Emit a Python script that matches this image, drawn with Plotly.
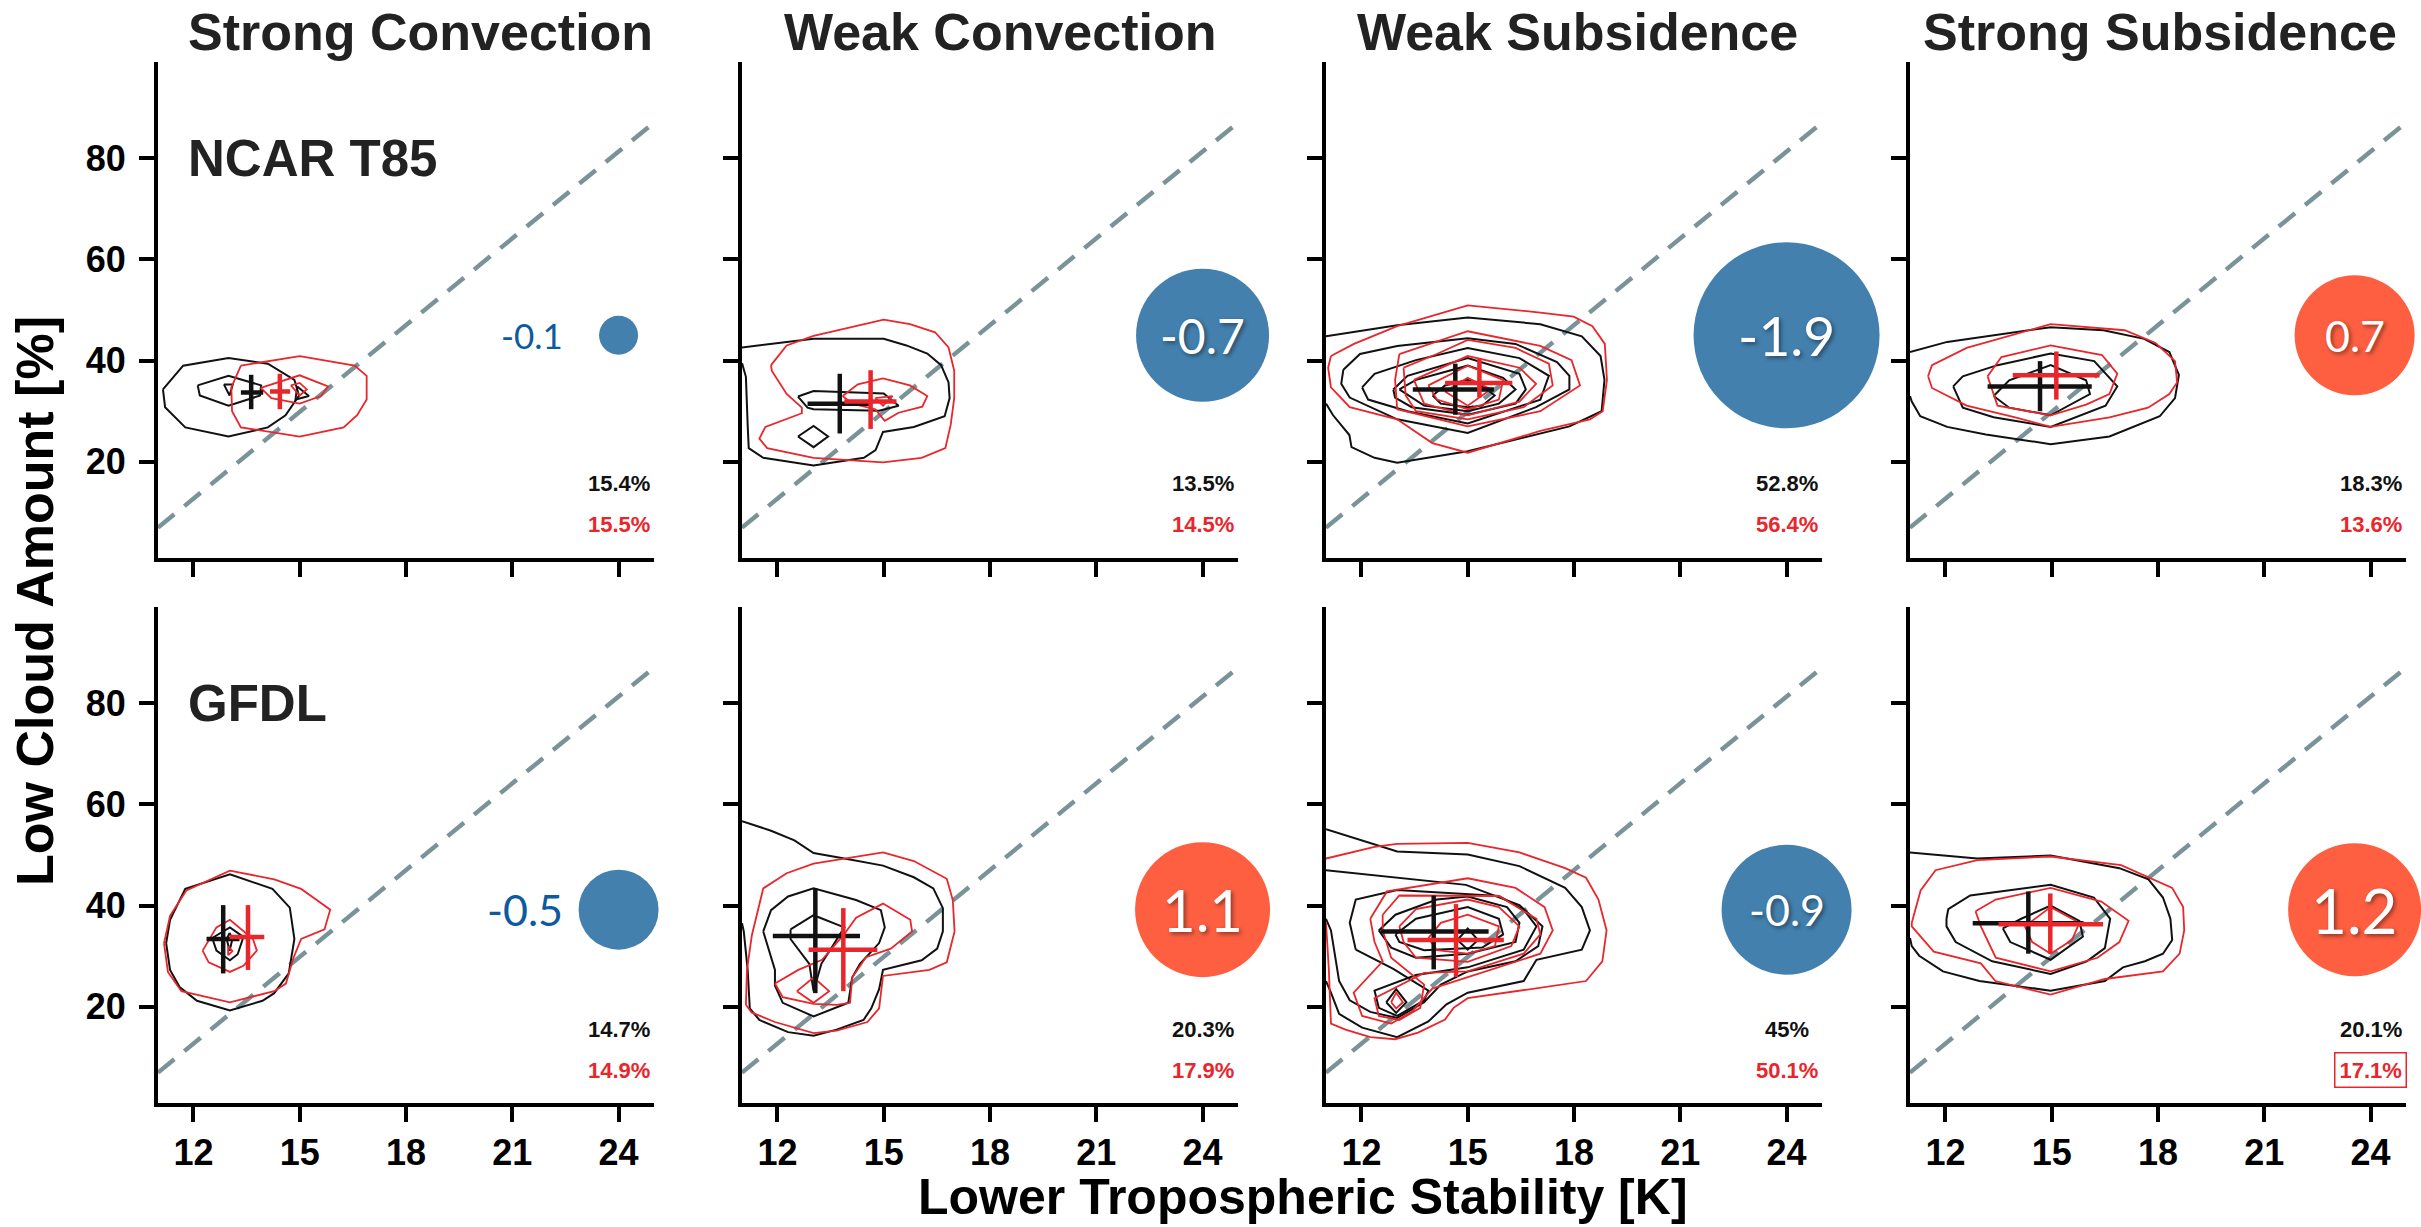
import plotly.graph_objects as go

# ---------------- data ----------------
REGIMES = ["Strong Convection", "Weak Convection", "Weak Subsidence", "Strong Subsidence"]
MODELS = ["NCAR T85", "GFDL"]
X_TICKS = [12, 15, 18, 21, 24]
Y_TICKS = [20, 40, 60, 80]
X_RANGE = [11, 25]
Y_RANGE = [1, 99]

# change values shown in the bubbles
ncar_change = [-0.1, -0.7, -1.9, 0.7]
gfdl_change = [-0.5, 1.1, -0.9, 1.2]

# regime frequencies (control = black, perturbed = red)
ncar_freq_ctl = ["15.4%", "13.5%", "52.8%", "18.3%"]
ncar_freq_exp = ["15.5%", "14.5%", "56.4%", "13.6%"]
gfdl_freq_ctl = ["14.7%", "20.3%", "45%", "20.1%"]
gfdl_freq_exp = ["14.9%", "17.9%", "50.1%", "17.1%"]
boxed_label = ("GFDL", 3, "exp")  # the framed 17.1%

# reference (dashed) line
ref_line_x = [11, 25]
ref_line_y = [7, 87]

# crosses: (x_center, y_center, x_left, x_right, y_bottom, y_top)
ncar_cross_black = [(13.63, 33.7, 13.34, 13.97, 30.4, 37.2),
                    (13.76, 31.5, 12.85, 14.65, 25.6, 37.4),
                    (14.65, 34.3, 13.45, 15.74, 29.3, 39.4),
                    (14.67, 34.9, 13.19, 16.13, 30.0, 39.9)]
ncar_cross_red = [(14.44, 33.9, 14.16, 14.73, 30.4, 37.4),
                  (14.63, 31.9, 13.89, 15.36, 26.5, 38.1),
                  (15.33, 35.6, 14.36, 16.26, 32.7, 40.5),
                  (15.13, 37.1, 13.90, 16.35, 32.3, 41.8)]
gfdl_cross_black = [(12.84, 33.4, 12.37, 13.30, 26.6, 40.1),
                    (13.07, 34.0, 11.87, 14.33, 22.7, 43.4),
                    (14.04, 34.9, 12.54, 15.59, 27.4, 42.0),
                    (14.34, 36.5, 12.77, 15.90, 30.5, 42.8)]
gfdl_cross_red = [(13.54, 33.8, 13.02, 14.00, 27.3, 40.1),
                  (13.86, 31.3, 12.88, 14.82, 23.1, 39.5),
                  (14.67, 33.2, 13.30, 16.02, 25.9, 40.3),
                  (14.96, 36.3, 13.50, 16.45, 30.5, 42.4)]

# contour lines (x = LTS [K], y = low cloud [%])
ncar_sc_black = [
    [(11.14, 34.3), (11.71, 39.0), (12.99, 40.5), (14.1, 39.4), (14.85, 36.2), (14.98, 33.1), (14.6, 29.2),
     (14.1, 26.8), (12.99, 25.0), (11.77, 26.8), (11.2, 30.8)],
    [(12.12, 35.1), (12.99, 37.0), (13.91, 35.1), (13.88, 33.1), (12.99, 31.1), (12.18, 33.1)],
    [(12.86, 35.3), (13.11, 35.3), (13.02, 33.1)],
    [(14.93, 34.9), (15.26, 33.0), (14.88, 32.3)],
]
ncar_sc_red = [
    [(13.34, 39.0), (15.0, 40.9), (16.55, 39.0), (16.89, 37.0), (16.89, 32.3), (16.62, 29.2), (16.24, 26.8),
     (15.0, 25.0), (13.34, 26.8), (13.09, 30.0), (13.07, 34.7)],
    [(13.9, 34.6), (15.0, 37.1), (15.8, 34.9), (15.6, 33.0), (15.0, 31.5), (14.2, 32.6)],
    [(14.75, 35.1), (15.0, 35.6), (15.2, 34.3), (15.0, 33.1)],
]
ncar_wc_black = [
    [(11.0, 42.6), (13.02, 44.3), (15.0, 44.3), (15.64, 43.0), (16.23, 41.4), (16.62, 39.1), (16.83, 35.7),
     (16.86, 32.6), (16.72, 29.0), (15.85, 26.9), (14.98, 25.9), (14.9, 24.5), (14.77, 22.3), (14.44, 20.8),
     (13.02, 19.3), (11.6, 20.8), (11.19, 22.7), (11.16, 27.3), (11.11, 36.8), (11.0, 39.5)],
    [(12.58, 32.9), (13.02, 34.0), (15.0, 33.5), (15.42, 31.1), (14.87, 30.1), (13.02, 30.4), (12.85, 30.7)],
    [(12.58, 25.0), (13.02, 27.1), (13.43, 25.0), (13.02, 22.9)],
]
ncar_wc_red = [
    [(11.82, 39.1), (12.26, 43.0), (13.02, 44.9), (15.0, 48.1), (15.74, 47.2), (16.45, 45.6), (16.83, 42.6),
     (16.99, 38.0), (16.99, 32.6), (16.89, 27.3), (16.74, 22.7), (16.07, 20.8), (14.98, 19.9), (13.02, 20.8),
     (11.71, 22.7), (11.49, 24.6), (11.66, 26.9), (12.69, 29.6), (12.69, 30.7), (12.26, 33.4), (11.84, 38.0)],
    [(13.84, 33.0), (14.27, 35.3), (14.98, 36.5), (15.74, 35.1), (16.23, 33.0), (16.09, 30.9), (15.42, 29.7),
     (15.03, 28.1), (14.76, 30.4), (14.11, 31.5)],
    [(14.76, 32.6), (15.25, 33.0), (14.98, 31.1)],
]
ncar_ws_black = [
    [(11.0, 44.8), (13.01, 47.0), (15.0, 48.5), (17.05, 47.2), (18.22, 44.8), (18.75, 40.9), (18.86, 36.2),
     (18.78, 30.0), (17.87, 27.0), (15.0, 22.1), (13.01, 19.8), (12.37, 20.8), (11.72, 22.9), (11.66, 25.3),
     (11.2, 29.2), (11.0, 31.5)],
    [(11.49, 38.2), (11.96, 41.3), (13.01, 42.9), (15.0, 44.4), (16.35, 43.3), (17.52, 39.7), (17.87, 37.0),
     (17.87, 34.3), (16.93, 30.8), (15.0, 25.7), (13.01, 28.4), (11.67, 32.7), (11.43, 35.4)],
    [(12.02, 34.7), (12.37, 37.4), (13.54, 40.1), (15.0, 42.5), (16.46, 40.5), (17.29, 37.0), (17.05, 32.3),
     (15.0, 27.6), (13.3, 30.0), (12.19, 32.3)],
    [(12.9, 34.3), (13.3, 37.0), (15.0, 40.5), (16.46, 37.4), (16.64, 34.3), (16.35, 31.5), (15.0, 29.3),
     (13.42, 30.8), (12.95, 32.7)],
    [(13.07, 34.3), (13.54, 36.2), (15.0, 39.0), (16.0, 36.6), (16.35, 34.3), (15.88, 31.5), (15.0, 30.0),
     (13.77, 31.1)],
    [(14.01, 33.1), (14.36, 35.1), (15.0, 36.2), (15.47, 34.7), (15.76, 33.1), (15.41, 31.1), (15.0, 30.8),
     (14.24, 31.5)],
]
ncar_ws_red = [
    [(11.14, 40.9), (11.79, 43.3), (13.01, 46.8), (15.0, 50.9), (17.05, 49.5), (17.99, 48.7), (18.52, 46.8),
     (18.87, 43.3), (18.93, 36.2), (18.81, 30.0), (18.45, 28.4), (17.05, 26.1), (15.0, 21.8), (14.0, 23.7),
     (13.01, 28.4), (11.67, 30.8), (11.14, 34.7), (11.06, 38.6)],
    [(13.07, 41.3), (15.0, 45.8), (17.05, 42.9), (17.93, 40.1), (18.17, 35.1), (17.05, 30.0), (15.0, 27.0),
     (13.01, 30.4), (12.95, 36.2)],
    [(13.19, 38.6), (14.13, 41.3), (15.0, 44.1), (16.35, 42.5), (17.29, 39.4), (17.4, 35.1), (16.58, 30.8),
     (15.0, 28.4), (13.54, 30.0), (13.25, 33.1)],
    [(13.48, 36.2), (15.0, 40.9), (16.46, 38.6), (16.93, 35.4), (16.46, 31.9), (15.0, 29.2), (13.77, 31.5)],
    [(13.89, 35.1), (15.0, 39.0), (16.0, 36.2), (15.88, 32.3), (15.0, 30.4), (14.13, 32.3)],
    [(14.36, 33.9), (15.0, 36.6), (15.65, 34.3), (15.0, 31.1)],
]
ncar_ss_black = [
    [(11.0, 41.7), (12.05, 43.7), (14.97, 46.6), (16.46, 46.0), (17.61, 44.3), (18.32, 41.7), (18.59, 37.2),
     (18.48, 32.6), (18.05, 29.0), (16.63, 25.0), (14.97, 23.5), (13.14, 25.4), (12.05, 26.9), (11.29, 29.0),
     (11.05, 31.9), (11.0, 33.0)],
    [(12.22, 34.9), (12.49, 36.9), (13.47, 39.1), (14.97, 41.4), (16.2, 39.9), (16.85, 34.9), (16.52, 31.1),
     (14.97, 26.9), (13.36, 28.8), (12.49, 30.7)],
    [(13.36, 33.0), (13.8, 36.1), (14.97, 39.1), (15.97, 36.1), (16.08, 33.4), (14.97, 29.2), (13.8, 30.7)],
]
ncar_ss_red = [
    [(11.51, 36.9), (11.62, 39.1), (12.6, 42.5), (13.97, 45.3), (14.97, 47.2), (17.06, 46.0), (17.93, 43.5),
     (18.48, 39.9), (18.54, 35.7), (18.32, 33.4), (17.72, 30.7), (16.63, 28.8), (14.97, 26.9), (13.97, 28.8),
     (12.6, 31.1), (11.62, 34.6)],
    [(13.19, 36.9), (13.58, 40.7), (14.97, 43.0), (16.42, 41.1), (16.85, 37.4), (16.63, 33.4), (15.97, 31.3),
     (14.97, 29.2), (13.47, 31.1)],
]
gfdl_sc_black = [
    [(11.23, 32.6), (11.34, 37.2), (11.77, 43.3), (13.03, 46.2), (14.23, 43.3), (14.72, 39.6), (14.85, 33.4),
     (14.69, 26.6), (14.28, 22.7), (13.95, 21.2), (13.03, 19.3), (12.1, 21.2), (11.61, 23.9), (11.34, 27.3)],
    [(12.53, 33.6), (13.03, 35.7), (13.41, 33.8), (13.25, 30.4), (13.03, 29.2), (12.65, 31.1)],
    [(13.02, 34.6), (13.1, 33.4), (13.02, 31.1), (12.94, 33.4)],
]
gfdl_sc_red = [
    [(11.17, 32.6), (11.34, 38.0), (11.8, 43.0), (13.03, 46.9), (14.28, 45.2), (15.04, 43.3), (15.48, 41.1),
     (15.86, 39.2), (15.7, 35.3), (15.04, 33.4), (14.82, 29.6), (14.61, 24.6), (14.28, 23.1), (13.03, 20.9),
     (11.66, 23.1), (11.28, 26.9)],
    [(12.26, 31.1), (12.65, 35.7), (13.03, 37.2), (13.68, 33.4), (13.79, 31.1), (13.41, 28.1), (13.03, 26.9),
     (12.43, 28.8)],
    [(12.98, 32.0), (13.1, 31.0), (12.98, 30.2)],
]
gfdl_wc_black = [
    [(11.0, 56.7), (11.82, 54.8), (12.48, 52.9), (13.02, 50.4), (13.89, 49.3), (14.98, 47.9), (15.85, 45.6),
     (16.4, 43.4), (16.67, 39.5), (16.67, 34.9), (16.51, 31.5), (16.07, 29.2), (14.98, 27.3), (14.87, 23.5),
     (14.65, 19.7), (14.43, 17.4), (13.67, 15.5), (13.02, 14.3), (12.3, 15.0), (11.49, 17.4), (11.22, 19.7),
     (11.16, 27.3), (11.05, 34.9), (11.0, 36.5)],
    [(11.6, 34.9), (11.82, 39.1), (12.3, 41.8), (13.02, 43.4), (14.22, 41.1), (14.92, 39.1), (15.03, 35.7),
     (14.87, 32.6), (14.33, 28.5), (14.11, 25.8), (14.0, 20.8), (13.02, 18.1), (12.15, 20.8), (11.93, 24.2),
     (11.93, 27.3)],
    [(12.37, 35.3), (13.02, 38.1), (13.89, 35.7), (13.24, 28.5), (13.02, 23.1), (12.9, 28.5), (12.37, 33.4)],
]
gfdl_wc_red = [
    [(11.11, 20.4), (11.14, 27.3), (11.28, 34.2), (11.6, 43.4), (12.26, 46.4), (13.02, 48.3), (14.98, 50.5),
     (15.85, 48.8), (16.78, 45.3), (16.95, 41.1), (17.0, 34.9), (16.78, 28.8), (16.29, 27.3), (14.98, 26.1),
     (14.87, 19.7), (14.54, 17.0), (13.67, 15.3), (13.02, 14.8), (11.93, 17.0), (11.27, 18.9)],
    [(11.93, 24.6), (12.59, 27.3), (13.26, 29.3), (13.89, 34.4), (14.22, 37.6), (14.98, 40.4), (15.75, 37.2),
     (15.8, 34.9), (15.2, 31.5), (14.5, 29.8), (14.11, 25.8), (14.05, 20.8), (13.67, 20.4), (13.02, 20.6),
     (12.15, 21.9)],
    [(12.55, 23.1), (13.02, 25.8), (13.46, 23.1), (13.02, 20.8)],
]
gfdl_ws_black = [
    [(11.0, 55.1), (12.25, 52.4), (13.01, 50.7), (15.0, 50.1), (16.46, 47.8), (17.75, 43.5), (18.22, 39.7),
     (18.45, 35.1), (18.22, 31.3), (16.94, 29.3), (16.58, 25.1), (15.0, 22.8), (14.4, 20.5), (13.89, 17.1),
     (13.01, 14.0), (12.02, 15.9), (11.37, 18.6), (11.14, 22.8), (11.0, 25.1)],
    [(11.0, 47.0), (13.01, 45.5), (14.95, 44.1), (16.46, 40.1), (17.11, 35.9), (16.99, 32.0), (16.35, 29.0),
     (15.0, 27.0), (14.24, 24.4), (13.77, 20.9), (13.01, 17.8), (12.25, 19.0), (11.67, 21.3), (11.37, 25.1),
     (11.14, 35.1), (11.0, 37.4)],
    [(11.84, 31.3), (11.67, 36.6), (11.84, 41.2), (13.01, 43.1), (15.88, 41.9), (16.58, 39.2), (16.94, 35.9),
     (16.58, 31.3), (15.0, 27.8), (13.54, 26.3), (12.37, 23.2), (12.49, 19.8), (13.01, 18.2), (13.77, 21.3),
     (13.89, 23.2), (12.9, 27.5)],
    [(12.49, 35.1), (12.96, 38.2), (14.13, 41.2), (15.0, 41.8), (16.11, 39.7), (16.46, 36.6), (16.35, 32.8),
     (15.0, 30.5), (13.54, 29.7), (12.84, 31.7)],
    [(12.96, 34.3), (13.54, 37.4), (15.0, 39.7), (15.88, 37.4), (16.0, 34.3), (15.41, 31.7), (13.77, 31.2),
     (13.07, 32.8)],
    [(14.71, 33.2), (15.0, 35.5), (15.29, 33.2), (15.0, 31.3)],
    [(12.7, 20.9), (12.98, 23.5), (13.27, 20.9), (12.98, 18.8)],
]
gfdl_ws_red = [
    [(11.0, 49.3), (12.37, 51.6), (13.01, 52.2), (15.0, 52.4), (16.46, 50.5), (17.75, 47.4), (18.34, 45.5),
     (18.69, 41.2), (18.92, 35.1), (18.8, 29.0), (18.34, 25.1), (16.8, 23.5), (15.0, 21.7), (14.6, 19.8),
     (14.36, 17.5), (13.6, 14.9), (12.95, 13.6), (12.25, 14.0), (11.55, 15.5), (11.14, 16.7), (11.08, 27.4),
     (11.0, 36.6)],
    [(12.25, 37.4), (12.72, 42.8), (15.0, 45.4), (16.35, 43.5), (17.17, 39.7), (17.4, 35.1), (17.05, 30.5),
     (15.0, 25.9), (14.0, 23.6), (13.42, 19.0), (12.84, 16.7), (12.02, 18.2), (11.78, 22.8), (12.6, 29.0),
     (12.37, 32.8)],
    [(12.6, 38.2), (13.07, 42.0), (15.88, 41.9), (16.94, 37.4), (17.05, 34.3), (16.58, 30.5), (15.0, 27.0),
     (13.77, 26.7), (12.37, 21.7), (12.49, 18.2), (13.07, 17.4), (13.66, 19.8), (13.77, 24.4), (12.84, 29.7),
     (12.6, 35.1)],
    [(13.07, 35.9), (13.54, 39.3), (15.0, 41.2), (15.88, 39.7), (16.46, 35.9), (16.23, 32.0), (15.0, 28.9),
     (13.54, 29.7), (13.19, 32.8)],
    [(13.89, 33.6), (14.24, 36.6), (15.0, 38.2), (15.88, 35.9), (15.77, 32.0), (15.0, 30.5), (14.13, 31.2)],
    [(12.84, 20.9), (12.98, 22.8), (13.17, 20.9), (12.98, 19.7)],
]
gfdl_ss_black = [
    [(11.0, 50.5), (12.9, 49.3), (14.97, 49.9), (16.91, 47.4), (17.73, 45.2), (18.14, 41.6), (18.35, 37.4),
     (18.4, 33.2), (18.14, 30.5), (17.63, 29.0), (17.01, 27.8), (16.5, 25.1), (14.97, 23.2), (12.96, 25.1),
     (11.93, 27.0), (11.26, 30.1), (11.05, 32.0), (11.0, 33.6)],
    [(12.03, 37.4), (12.08, 39.3), (12.7, 42.0), (14.97, 44.1), (16.19, 41.6), (16.65, 37.4), (16.5, 31.6),
     (15.99, 29.0), (14.97, 26.5), (13.32, 29.0), (12.29, 32.8), (12.03, 35.9)],
    [(13.62, 35.5), (14.14, 37.4), (14.97, 40.0), (15.78, 37.0), (15.88, 33.9), (14.97, 29.3), (13.83, 32.8)],
]
gfdl_ss_red = [
    [(11.05, 36.6), (11.3, 43.0), (11.72, 47.0), (12.9, 49.0), (14.97, 49.7), (16.96, 48.0), (18.4, 43.5),
     (18.71, 39.7), (18.74, 35.1), (18.61, 30.5), (18.14, 27.0), (16.5, 25.5), (14.97, 22.4), (13.41, 25.1),
     (13.0, 28.6), (11.67, 30.9), (11.05, 35.9)],
    [(12.85, 38.9), (13.42, 41.2), (14.97, 43.5), (16.4, 40.8), (17.17, 37.0), (16.91, 32.8), (16.29, 29.7),
     (14.97, 27.0), (13.42, 29.7), (13.0, 35.9)],
    [(14.24, 35.9), (14.97, 39.7), (15.78, 36.6), (15.57, 33.2), (14.97, 30.5), (14.45, 32.8)],
]

ncar_black = [ncar_sc_black, ncar_wc_black, ncar_ws_black, ncar_ss_black]
ncar_red = [ncar_sc_red, ncar_wc_red, ncar_ws_red, ncar_ss_red]
gfdl_black = [gfdl_sc_black, gfdl_wc_black, gfdl_ws_black, gfdl_ss_black]
gfdl_red = [gfdl_sc_red, gfdl_wc_red, gfdl_ws_red, gfdl_ss_red]

# ---------------- style / layout config ----------------
W, H = 2421, 1227
PANEL_X0 = [158, 742, 1326, 1910]
ROW_TOP = [62, 607]
PANEL_W = 496
PANEL_H = 496
TITLE_SHIFT = [14, 10, 3, 2]

BLACK = "#111111"
RED = "#e8262b"
BLUE = "#4380ae"
ORANGE = "#fe5f41"
BLUE_TEXT = "#0d5a9c"
DASH_COLOR = "#7a9399"
TEXT_DARK = "#222222"
LABEL_FONT = "Liberation Sans, Arial, Helvetica, sans-serif"
NUM_FONT = "Lato, Open Sans, sans-serif"

# bubble geometry (px diameters & font sizes) per row, per regime
bubble_x = [24, 24, 24, 23.55]
bubble_y = [45, 39.2]
bubble_diam = [[39, 133, 186, 120], [80, 135, 130, 133]]
bubble_font = [[35, 48, 55, 43], [43, 58, 43, 62]]
bubble_text_inside = [[False, True, True, True], [False, True, True, True]]
freq_y = [(15.8, 7.6), (15.6, 7.5)]

fig = go.Figure()
annotations = []


def poly_xy(polys):
    xs, ys = [], []
    for p in polys:
        pts = list(p)
        is_open = pts[0][0] <= 11.0 and pts[-1][0] <= 11.0
        if not is_open:
            pts = pts + [pts[0]]
        xs += [q[0] for q in pts] + [None]
        ys += [q[1] for q in pts] + [None]
    return xs, ys


def cross_xy(c):
    xc, yc, x0, x1, y0, y1 = c
    return [x0, x1, None, xc, xc], [yc, yc, None, y0, y1]


model_black = [ncar_black, gfdl_black]
model_red = [ncar_red, gfdl_red]
model_cross_black = [ncar_cross_black, gfdl_cross_black]
model_cross_red = [ncar_cross_red, gfdl_cross_red]
model_change = [ncar_change, gfdl_change]
model_freq_ctl = [ncar_freq_ctl, gfdl_freq_ctl]
model_freq_exp = [ncar_freq_exp, gfdl_freq_exp]

TICK_FONT = dict(family=LABEL_FONT, size=36, color="black", weight=700)

layout_axes = {}
for r in range(2):
    for c in range(4):
        k = r * 4 + c + 1
        xa = "x" if k == 1 else f"x{k}"
        ya = "y" if k == 1 else f"y{k}"
        xkey = "xaxis" if k == 1 else f"xaxis{k}"
        ykey = "yaxis" if k == 1 else f"yaxis{k}"
        x0 = PANEL_X0[c]
        top = ROW_TOP[r]
        layout_axes[xkey] = dict(
            domain=[x0 / W, (x0 + PANEL_W) / W], anchor=ya, range=X_RANGE,
            showline=True, linecolor="black", linewidth=4, ticks="outside", ticklen=15, tickwidth=4,
            tickcolor="black", tickvals=X_TICKS, showticklabels=(r == 1), showgrid=False, zeroline=False,
            tickfont=TICK_FONT, ticklabelstandoff=0, fixedrange=True)
        layout_axes[ykey] = dict(
            domain=[1 - (top + PANEL_H) / H, 1 - top / H], anchor=xa, range=Y_RANGE,
            showline=True, linecolor="black", linewidth=4, ticks="outside", ticklen=15, tickwidth=4,
            tickcolor="black", tickvals=Y_TICKS, showticklabels=(c == 0), showgrid=False, zeroline=False,
            tickfont=TICK_FONT, ticklabelstandoff=6, fixedrange=True)

        # dashed reference line
        fig.add_trace(go.Scatter(x=ref_line_x, y=ref_line_y, mode="lines", xaxis=xa, yaxis=ya,
                                 line=dict(color=DASH_COLOR, width=4.5, dash="21px,13px"),
                                 hoverinfo="skip", showlegend=False))
        # contours
        bx, by = poly_xy(model_black[r][c])
        fig.add_trace(go.Scatter(x=bx, y=by, mode="lines", xaxis=xa, yaxis=ya,
                                 line=dict(color=BLACK, width=2), hoverinfo="skip", showlegend=False))
        rx, ry = poly_xy(model_red[r][c])
        fig.add_trace(go.Scatter(x=rx, y=ry, mode="lines", xaxis=xa, yaxis=ya,
                                 line=dict(color=RED, width=1.8), hoverinfo="skip", showlegend=False))
        # crosses
        cx, cy = cross_xy(model_cross_black[r][c])
        fig.add_trace(go.Scatter(x=cx, y=cy, mode="lines", xaxis=xa, yaxis=ya,
                                 line=dict(color=BLACK, width=4.5), hoverinfo="skip", showlegend=False))
        cx, cy = cross_xy(model_cross_red[r][c])
        fig.add_trace(go.Scatter(x=cx, y=cy, mode="lines", xaxis=xa, yaxis=ya,
                                 line=dict(color=RED, width=4.5), hoverinfo="skip", showlegend=False))
        # bubble
        val = model_change[r][c]
        col = BLUE if val < 0 else ORANGE
        fig.add_trace(go.Scatter(x=[bubble_x[c]], y=[bubble_y[r]], mode="markers", xaxis=xa, yaxis=ya,
                                 marker=dict(size=bubble_diam[r][c], color=col, line=dict(width=0)),
                                 cliponaxis=False, hoverinfo="skip", showlegend=False))
        txt = f"{val:.1f}"
        if bubble_text_inside[r][c]:
            annotations.append(dict(x=bubble_x[c], y=bubble_y[r], xref=xa, yref=ya, text=txt, showarrow=False,
                                    xanchor="center", yanchor="middle",
                                    font=dict(family=NUM_FONT, size=bubble_font[r][c], color="white",
                                              shadow="2px 2px 4px rgba(0,0,0,0.45)")))
        else:
            annotations.append(dict(x=22.5, y=bubble_y[r], xref=xa, yref=ya, text=txt, showarrow=False,
                                    xanchor="right", yanchor="middle",
                                    font=dict(family=NUM_FONT, size=bubble_font[r][c], color=BLUE_TEXT)))
        # frequency labels
        annotations.append(dict(x=24, y=freq_y[r][0], xref=xa, yref=ya, text=model_freq_ctl[r][c],
                                showarrow=False, xanchor="center", yanchor="middle",
                                font=dict(family=LABEL_FONT, size=22, color=BLACK, weight=700)))
        boxed = (MODELS[r] == boxed_label[0] and c == boxed_label[1])
        ann = dict(x=24, y=freq_y[r][1], xref=xa, yref=ya, text=model_freq_exp[r][c],
                   showarrow=False, xanchor="center", yanchor="middle",
                   font=dict(family=LABEL_FONT, size=22, color=RED, weight=700))
        if boxed:
            ann.update(bordercolor=RED, borderwidth=1.5, borderpad=4)
        annotations.append(ann)

        # row label
        if c == 0:
            annotations.append(dict(x=11.8, y=80, xref=xa, yref=ya, text=MODELS[r], showarrow=False,
                                    xanchor="left", yanchor="middle",
                                    font=dict(family=LABEL_FONT, size=51, color=TEXT_DARK, weight=700)))

# column titles
for c, name in enumerate(REGIMES):
    annotations.append(dict(x=(PANEL_X0[c] + PANEL_W / 2 + TITLE_SHIFT[c]) / W, y=1 - 32 / H,
                            xref="paper", yref="paper",
                            text=name, showarrow=False, xanchor="center", yanchor="middle",
                            font=dict(family=LABEL_FONT, size=52, color=TEXT_DARK, weight=700)))

# axis titles
annotations.append(dict(x=1303 / W, y=1 - 1197 / H, xref="paper", yref="paper",
                        text="Lower Tropospheric Stability [K]", showarrow=False,
                        xanchor="center", yanchor="middle", borderpad=0,
                        font=dict(family=LABEL_FONT, size=50, color="black", weight=700)))
annotations.append(dict(x=35 / W, y=1 - 601 / H, xref="paper", yref="paper",
                        text="Low Cloud Amount [%]", showarrow=False, textangle=-90,
                        xanchor="center", yanchor="middle",
                        font=dict(family=LABEL_FONT, size=52, color="black", weight=700)))

fig.update_layout(width=W, height=H, margin=dict(l=0, r=0, t=0, b=0),
                  paper_bgcolor="white", plot_bgcolor="white", showlegend=False,
                  annotations=annotations, **layout_axes)

fig.write_html("out.html", config={"displayModeBar": False})
